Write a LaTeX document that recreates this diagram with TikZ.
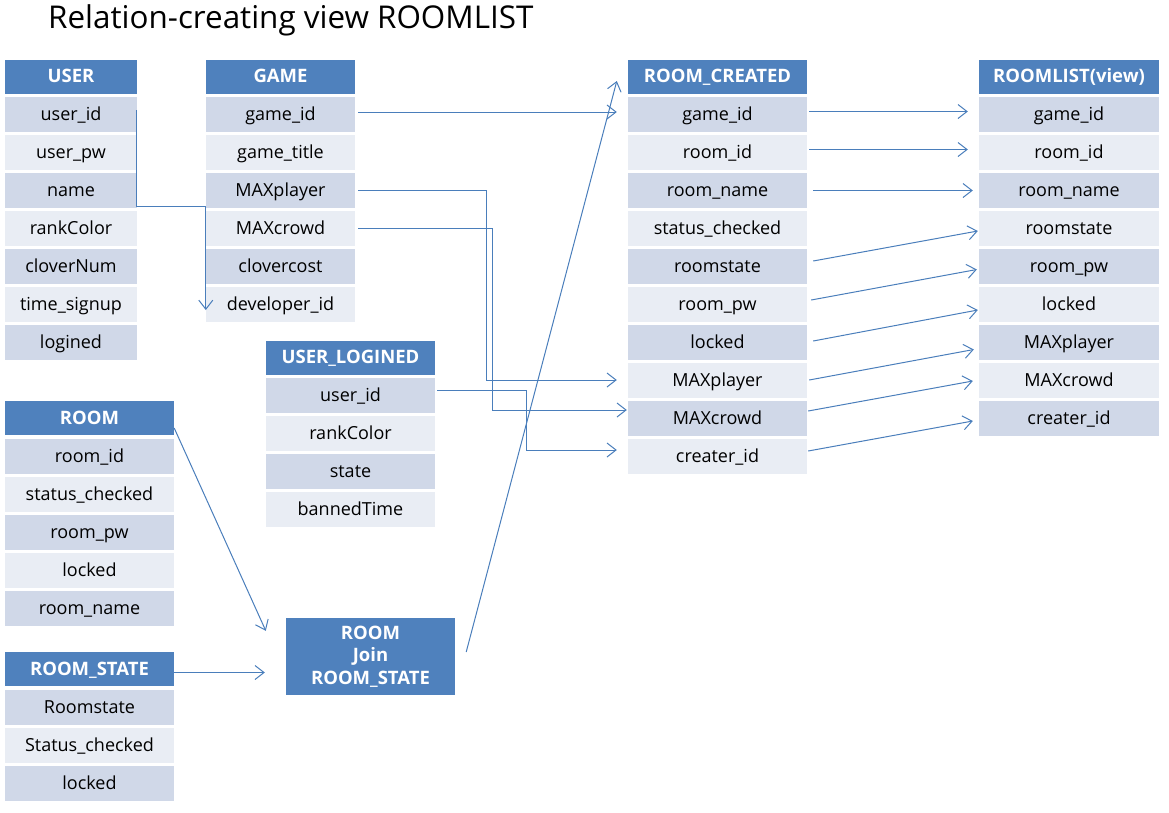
\documentclass[tikz,border=0pt]{standalone}
\usepackage{fontspec}
\setmainfont{Open Sans}
\usetikzlibrary{arrows.meta}
\definecolor{hdrblue}{HTML}{4F81BD}
\definecolor{darkrow}{HTML}{D0D8E8}
\definecolor{lightrow}{HTML}{E9EDF4}
\definecolor{linecol}{HTML}{4A7EBB}
\newcommand{\mktable}[6]{%
  \pgfmathsetmacro{\tblw}{#3-#2}%
  \pgfmathsetmacro{\tblcx}{(#2+#3)/2}%
  \node[hdr, minimum width=\tblw pt] (#1h) at (\tblcx,#4) {#5};%
  \foreach \t [count=\i] in {#6} {%
    \pgfmathsetmacro{\tbly}{#4+38*\i}%
    \ifodd\i \def\rowc{darkrow}\else\def\rowc{lightrow}\fi
    \node[cell, fill=\rowc, minimum width=\tblw pt] (#1\i) at (\tblcx,\tbly) {\t};%
  }%
}
\begin{document}
\begin{tikzpicture}[x=1pt,y=-1pt,
  hdr/.style={rectangle, fill=hdrblue, text=white, font=\fontsize{18.5}{20}\selectfont\bfseries, minimum height=34pt, inner sep=0pt, text height=14.5pt, text depth=2.5pt},
  cell/.style={rectangle, minimum height=35pt, inner sep=0pt, font=\fontsize{18}{20}\selectfont, text height=14.5pt, text depth=2.5pt},
  conn/.style={draw=linecol, line width=1pt, -{Straight Barb[length=9pt,width=14pt]}}]
\useasboundingbox (0,0) rectangle (1169,812);
\node[anchor=base west, inner sep=0pt, font=\fontsize{31.4}{36}\selectfont] (title) at (48,28) {Relation-creating view ROOMLIST};

\mktable{U}{5}{137}{76.5}{USER}{user\_id,user\_pw,name,rankColor,cloverNum,time\_signup,logined}
\mktable{G}{206}{355}{76.5}{GAME}{game\_id,game\_title,MAXplayer,MAXcrowd,clovercost,developer\_id}
\mktable{L}{266}{435}{357.5}{USER\_LOGINED}{user\_id,rankColor,state,bannedTime}
\mktable{R}{5}{174}{418}{ROOM}{room\_id,status\_checked,room\_pw,locked,room\_name}
\mktable{S}{5}{174}{669}{ROOM\_STATE}{Roomstate,Status\_checked,locked}
\mktable{C}{628}{807}{76.5}{ROOM\_CREATED}{game\_id,room\_id,room\_name,status\_checked,roomstate,room\_pw,locked,MAXplayer,MAXcrowd,creater\_id}
\mktable{V}{979}{1159}{76.5}{ROOMLIST(view)}{game\_id,room\_id,room\_name,roomstate,room\_pw,locked,MAXplayer,MAXcrowd,creater\_id}

\node[rectangle, fill=hdrblue, text=white, inner sep=0pt, minimum width=169pt, minimum height=77pt, align=center, font=\fontsize{18.5}{22.5}\selectfont\bfseries] (J) at (370.5,656.5) {ROOM\\Join\\ROOM\_STATE};

% USER -> GAME
\draw[conn] ([xshift=-1pt,yshift=4.5pt]U1.east) |- ([yshift=2pt]G3.south west) -- ([yshift=-5.5pt]G6.west);
% GAME / USER_LOGINED -> ROOM_CREATED
\draw[conn] ([xshift=3pt,yshift=2.5pt]G1.east) -- ([xshift=-11pt,yshift=2.5pt]C1.west);
\draw[conn] ([xshift=3pt,yshift=0.5pt]G3.east) -| ([xshift=-141pt,yshift=0.5pt]C8.west) -- ([xshift=-11pt,yshift=0.5pt]C8.west);
\draw[conn] ([xshift=3pt,yshift=0.5pt]G4.east) -| ([xshift=-135pt,yshift=8.5pt]C9.west) -- ([xshift=-1pt,yshift=8.5pt]C9.west);
\draw[conn] ([xshift=2pt,yshift=5.5pt]L1.east) -| ([xshift=-101pt,yshift=6.5pt]C10.west) -- ([xshift=-11pt,yshift=6.5pt]C10.west);
% ROOM, ROOM_STATE -> Join -> ROOM_CREATED
\draw[conn] ([yshift=-10pt]Rh.east) -- ([xshift=-20pt,yshift=-13pt]J.north west);
\draw[conn] ([yshift=-3.5pt]Sh.east) -- ([xshift=-21pt,yshift=-16pt]J.west);
\draw[conn] ([xshift=11pt,yshift=4.5pt]J.east) -- ([xshift=-11pt,yshift=-4.5pt]Ch.west);
% ROOM_CREATED -> ROOMLIST
\draw[conn] ([xshift=2pt,yshift=3pt]C1.east) -- ([xshift=-11pt,yshift=3pt]V1.west);
\draw[conn] ([xshift=2pt,yshift=3pt]C2.east) -- ([xshift=-11pt,yshift=3pt]V2.west);
\draw[conn] ([xshift=6pt]C3.east) -- ([xshift=-6pt]V3.west);
\draw[conn] ([xshift=6pt,yshift=5.5pt]C5.east) -- ([xshift=-1pt,yshift=-2.5pt]V4.west);
\draw[conn] ([xshift=4pt,yshift=4.5pt]C6.east) -- ([xshift=-2pt,yshift=-3pt]V5.west);
\draw[conn] ([xshift=6pt,yshift=1.5pt]C7.east) -- ([xshift=-1pt,yshift=-5.5pt]V6.west);
\draw[conn] ([xshift=2pt,yshift=0.5pt]C8.east) -- ([xshift=-5pt,yshift=-7pt]V7.west);
\draw[conn] ([xshift=1pt,yshift=7.5pt]C9.east) -- ([xshift=-6pt,yshift=-0.5pt]V8.west);
\draw[conn] ([xshift=1pt,yshift=5.5pt]C10.east) -- ([xshift=-6pt,yshift=-2.5pt]V9.west);
\end{tikzpicture}
\end{document}
